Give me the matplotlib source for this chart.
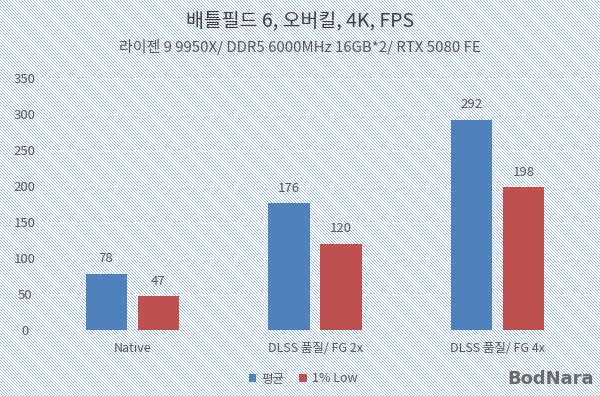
import numpy as np
import matplotlib
matplotlib.use('Agg')
import matplotlib.pyplot as plt

plt.rcParams['font.family'] = ['Noto Sans CJK KR', 'DejaVu Sans']

# data
categories = ['Native', 'DLSS 품질/ FG 2x', 'DLSS 품질/ FG 4x']
avg_fps = [78, 176, 292]
low_fps = [47, 120, 198]
series_names = ['평균', '1% Low']
yticks = [0, 50, 100, 150, 200, 250, 300, 350]

blue = '#4f81bd'
red = '#c0504d'
txt = '#595959'

fig = plt.figure(figsize=(6, 3.96), dpi=100)

# striped background texture (diagonal pale blue lines)
H, W = 396, 600
rr, cc = np.mgrid[0:H, 0:W]
stripe = ((cc - rr) % 3 == 0)
tex = np.ones((H, W, 3))
tex[stripe] = np.array([0x9f, 0xbc, 0xea]) / 255
fig.figimage(tex, 0, 0, origin='upper', zorder=-10)

ax = fig.add_axes([0.068, 0.1667, 0.914, 0.6363])
ax.patch.set_alpha(0)

x = np.arange(len(categories))
w = 0.225
off = 0.1425
b1 = ax.bar(x - off, avg_fps, w, color=blue, label=series_names[0], zorder=3)
b2 = ax.bar(x + off, low_fps, w, color=red, label=series_names[1], zorder=3)

for bars in (b1, b2):
    for r in bars:
        ax.annotate(f'{int(r.get_height())}', (r.get_x() + r.get_width() / 2, r.get_height()),
                    xytext=(0, 6), textcoords='offset points', ha='center', va='bottom',
                    fontsize=9.5, color=txt)

ax.set_xlim(-0.5, 2.5)
ax.set_ylim(0, 350)
ax.set_yticks(yticks)
ax.set_yticklabels([str(v) for v in yticks], ha='center')
ax.set_xticks(x)
ax.set_xticklabels(categories)
ax.tick_params(axis='y', length=0, pad=11.5, labelsize=9.5, labelcolor=txt)
ax.tick_params(axis='x', length=0, pad=9, labelsize=9, labelcolor=txt)
ax.grid(axis='y', color='#f4f6fa', linewidth=1.0, linestyle=(0, (2, 1)), zorder=0)
for s in ax.spines.values():
    s.set_visible(False)

fig.text(0.5, 1 - 21 / 396, '배틀필드 6, 오버킬, 4K, FPS', ha='center', va='center',
         fontsize=14, color='#404040')
fig.text(0.5, 1 - 47 / 396, '라이젠 9 9950X/ DDR5 6000MHz 16GB*2/ RTX 5080 FE', ha='center',
         va='center', fontsize=10.8, color=txt)

leg = fig.legend(loc='center', bbox_to_anchor=(0.505, 1 - 379 / 396), ncol=2, frameon=False,
                 fontsize=9, handlelength=0.6, handleheight=0.6, handletextpad=0.4,
                 columnspacing=1.2, labelcolor=txt)

fig.text(0.99, 0.02, 'BodNara', ha='right', va='bottom', fontsize=13, fontweight='bold',
         color='#6a6a6a', family='DejaVu Sans')

fig.savefig('out.png', dpi=100)
